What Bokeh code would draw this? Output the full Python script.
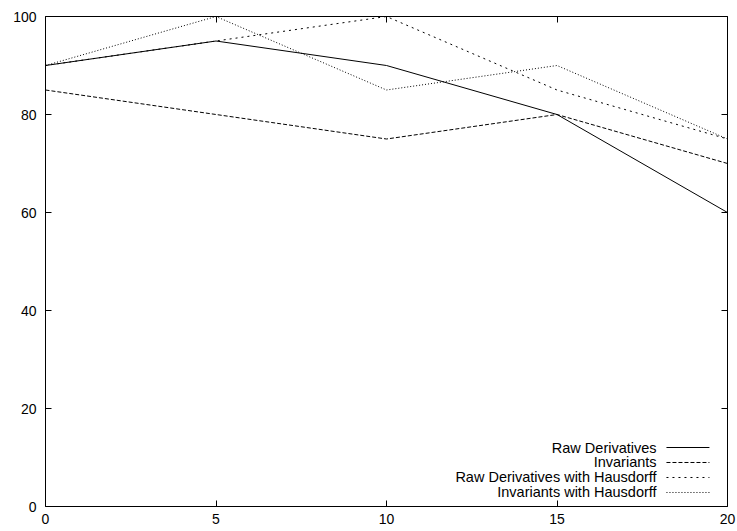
from bokeh.plotting import figure
from bokeh.models import FixedTicker, LinearAxis, Label, Arrow, Range1d
from bokeh.embed import file_html
from bokeh.resources import INLINE

x_vals = [0, 5, 10, 15, 20]
raw_derivatives = [90, 95, 90, 80, 60]
invariants = [85, 80, 75, 80, 70]
raw_deriv_hausdorff = [90, 95, 100, 85, 75]
invariants_hausdorff = [90, 100, 85, 90, 75]
series_names = ["Raw Derivatives", "Invariants",
                "Raw Derivatives with Hausdorff", "Invariants with Hausdorff"]
x_ticks = [0, 5, 10, 15, 20]
y_ticks = [0, 20, 40, 60, 80, 100]

FONT = "Liberation Sans"

p = figure(width=737, height=531, output_backend="svg", toolbar_location=None,
           x_range=Range1d(0, 20), y_range=Range1d(0, 100),
           min_border_left=45, min_border_right=10, min_border_top=16,
           min_border_bottom=25, x_axis_location=None, y_axis_location=None)
p.xgrid.visible = False
p.ygrid.visible = False
p.outline_line_color = "black"
p.outline_line_width = 1
p.background_fill_color = "white"
p.border_fill_color = "white"


def style_axis(ax, ticks, show_labels):
    ax.ticker = FixedTicker(ticks=ticks)
    ax.axis_line_color = None
    ax.major_tick_in = 6
    ax.major_tick_out = 0
    ax.major_tick_line_color = "black"
    ax.minor_tick_line_color = None
    ax.major_label_text_font = FONT
    ax.major_label_text_color = "black"
    ax.major_label_text_font_size = "14px"
    if not show_labels:
        ax.major_label_overrides = {t: "" for t in ticks}
        ax.major_label_standoff = 0


bottom = LinearAxis()
style_axis(bottom, x_ticks, True)
bottom.major_label_standoff = 7
p.add_layout(bottom, "below")

left = LinearAxis()
style_axis(left, y_ticks, True)
left.major_label_standoff = 9
p.add_layout(left, "left")

top = LinearAxis()
style_axis(top, x_ticks, False)
p.add_layout(top, "above")

right = LinearAxis()
style_axis(right, y_ticks, False)
p.add_layout(right, "right")

dashes = ["solid", "4 2", "2 4", "1 2"]
all_series = [raw_derivatives, invariants, raw_deriv_hausdorff, invariants_hausdorff]
for ys, dash in zip(all_series, dashes):
    p.line(x_vals, ys, line_color="black", line_width=1, line_dash=dash)

# legend (gnuplot style: text right-aligned, sample to the right)
text_x = 17.92
sample_x0 = 18.21
sample_x1 = 19.47
row_y = [12.04, 8.98, 5.92, 2.86]
for name, dash, yy in zip(series_names, dashes, row_y):
    p.add_layout(Label(x=text_x, y=yy, text=name, text_align="right",
                       text_baseline="middle", text_font=FONT,
                       text_font_size="14.5px", text_color="black"))
    p.add_layout(Arrow(x_start=sample_x0, y_start=yy, x_end=sample_x1, y_end=yy,
                       start=None, end=None, line_color="black", line_width=1,
                       line_dash=dash))

open("out.html", "w").write(file_html(p, INLINE))
